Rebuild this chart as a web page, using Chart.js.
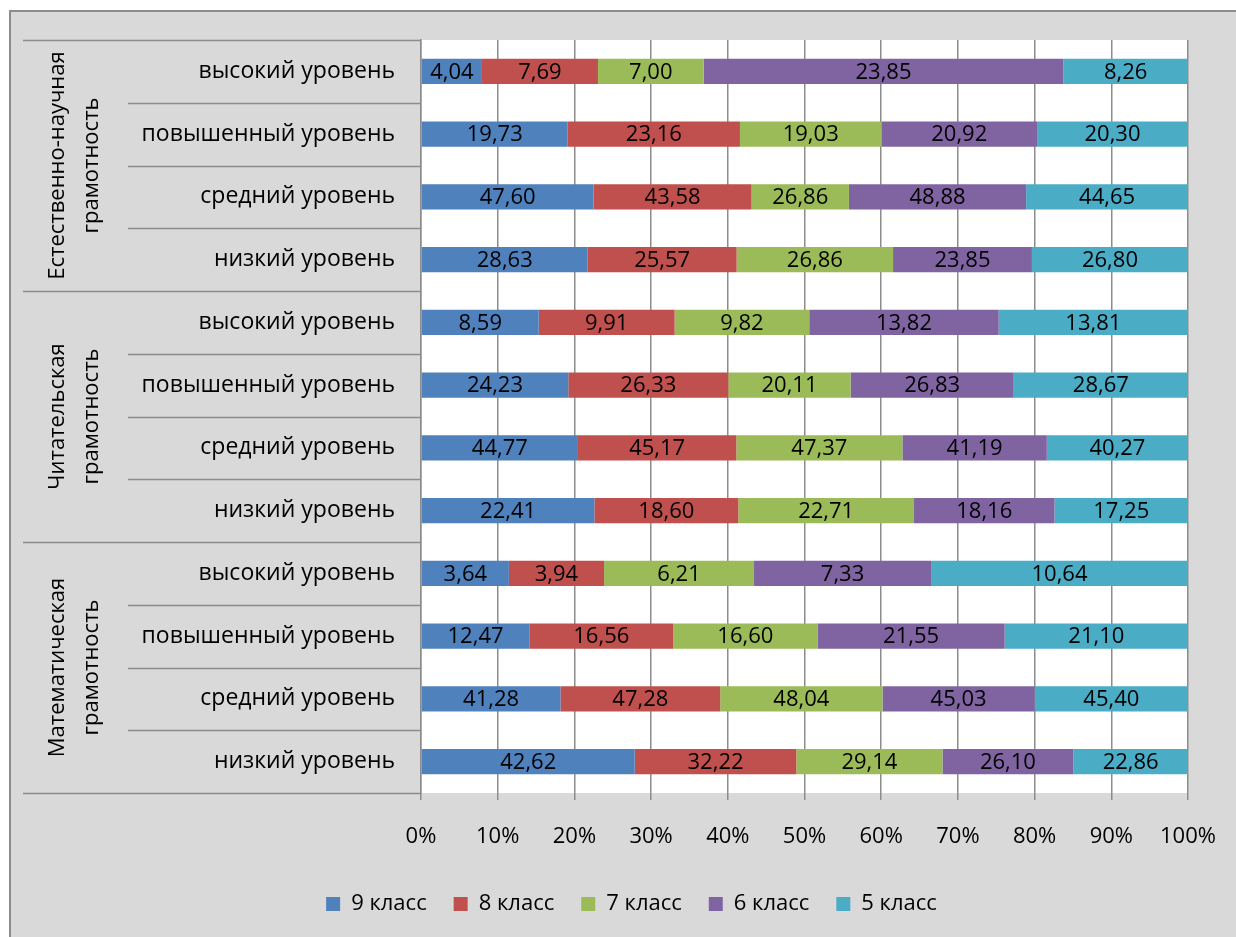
<!DOCTYPE html>
<html>
<head>
<meta charset="utf-8">
<script src="https://cdn.jsdelivr.net/npm/chart.js@4/dist/chart.umd.min.js"></script>
<style>
  html, body { margin: 0; padding: 0; background: #fff; }
  #wrap { width: 1236px; height: 937px; position: relative; }
</style>
</head>
<body>
<div id="wrap"><canvas id="chart"></canvas></div>
<script>
const groups = [
  ['Естественно-научная', 'грамотность'],
  ['Читательская', 'грамотность'],
  ['Математическая', 'грамотность'],
];
const levels = ['высокий уровень', 'повышенный уровень', 'средний уровень', 'низкий уровень'];
const seriesNames = ['9 класс', '8 класс', '7 класс', '6 класс', '5 класс'];
const seriesColors = ['#4f81bd', '#c0504d', '#9bbb59', '#8064a2', '#4bacc6'];

// rows top to bottom: 3 groups x 4 levels
const grade9 = [4.04, 19.73, 47.60, 28.63, 8.59, 24.23, 44.77, 22.41, 3.64, 12.47, 41.28, 42.62];
const grade8 = [7.69, 23.16, 43.58, 25.57, 9.91, 26.33, 45.17, 18.60, 3.94, 16.56, 47.28, 32.22];
const grade7 = [7.00, 19.03, 26.86, 26.86, 9.82, 20.11, 47.37, 22.71, 6.21, 16.60, 48.04, 29.14];
const grade6 = [23.85, 20.92, 48.88, 23.85, 13.82, 26.83, 41.19, 18.16, 7.33, 21.55, 45.03, 26.10];
const grade5 = [8.26, 20.30, 44.65, 26.80, 13.81, 28.67, 40.27, 17.25, 10.64, 21.10, 45.40, 22.86];
const xTicks = [0, 10, 20, 30, 40, 50, 60, 70, 80, 90, 100];

const series = [grade9, grade8, grade7, grade6, grade5];
const categories = [];
groups.forEach(() => levels.forEach(l => categories.push(l)));

// 100% stacked: share of each row total
const totals = categories.map((_, i) => series.reduce((s, arr) => s + arr[i], 0));

const FONT = '"Open Sans", sans-serif';
const LINE = '#8c8c8c';

Chart.defaults.font.family = FONT;
Chart.defaults.color = '#000';

const framePlugin = {
  id: 'frame',
  beforeDraw(chart) {
    const ctx = chart.ctx;
    const a = chart.chartArea;
    const y = chart.scales.y;
    const W = chart.width, H = chart.height;
    ctx.save();
    ctx.fillStyle = '#fff';
    ctx.fillRect(0, 0, W, H);
    ctx.fillStyle = '#d9d9d9';
    ctx.fillRect(9, 10, W, H);
    ctx.strokeStyle = LINE;
    ctx.lineWidth = 2;
    ctx.beginPath();
    ctx.moveTo(10, H);
    ctx.lineTo(10, 11);
    ctx.lineTo(W, 11);
    ctx.stroke();
    ctx.fillStyle = '#fff';
    ctx.fillRect(a.left, a.top, a.right - a.left, a.bottom - a.top);

    // row separators in the label area
    const rowH = y.getPixelForValue(1) - y.getPixelForValue(0);
    const top0 = y.getPixelForValue(0) - rowH / 2;
    ctx.lineWidth = 1.5;
    for (let k = 0; k <= categories.length; k++) {
      const yy = Math.round(top0 + k * rowH) + 0.5;
      ctx.beginPath();
      ctx.moveTo(k % levels.length === 0 ? 23 : 128, yy);
      ctx.lineTo(a.left, yy);
      ctx.stroke();
    }

    // rotated group titles
    ctx.fillStyle = '#000';
    ctx.font = '22px ' + FONT;
    ctx.textAlign = 'center';
    ctx.textBaseline = 'middle';
    groups.forEach((g, gi) => {
      const cy = top0 + (gi * levels.length + levels.length / 2) * rowH;
      ctx.save();
      ctx.translate(75, cy);
      ctx.rotate(-Math.PI / 2);
      ctx.fillText(g[0], 0, -17);
      ctx.fillText(g[1], 0, 17);
      ctx.restore();
    });
    ctx.restore();
  },
  afterDatasetsDraw(chart) {
    const ctx = chart.ctx;
    ctx.save();
    ctx.fillStyle = '#000';
    ctx.font = '22px ' + FONT;
    ctx.textAlign = 'center';
    ctx.textBaseline = 'middle';
    chart.data.datasets.forEach((ds, i) => {
      chart.getDatasetMeta(i).data.forEach((bar, j) => {
        const txt = ds.rawValues[j].toFixed(2).replace('.', ',');
        ctx.fillText(txt, (bar.x + bar.base) / 2, bar.y + 1);
      });
    });
    ctx.restore();
  }
};

new Chart(document.getElementById('chart'), {
  type: 'bar',
  data: {
    labels: categories,
    datasets: series.map((arr, i) => ({
      label: seriesNames[i],
      data: arr.map((v, j) => v / totals[j] * 100),
      rawValues: arr,
      backgroundColor: seriesColors[i],
      borderWidth: 0,
      barPercentage: 0.4,
      categoryPercentage: 1,
    })),
  },
  options: {
    indexAxis: 'y',
    responsive: true,
    maintainAspectRatio: false,
    animation: false,
    layout: { padding: { top: 40, right: 48, left: 75, bottom: 12 } },
    scales: {
      x: {
        stacked: true,
        min: 0,
        max: 100,
        afterBuildTicks: (scale) => { scale.ticks = xTicks.map(v => ({ value: v })); },
        afterFit: (scale) => {
          scale.height = 73;
          scale.paddingLeft = 0;
          scale.paddingRight = 0;
        },
        ticks: {
          callback: (v) => v + '%',
          font: { size: 22 },
          color: '#000',
          padding: 24,
          maxRotation: 0,
        },
        grid: { color: LINE, lineWidth: 1.5, tickLength: 7 },
        border: { display: false },
      },
      y: {
        stacked: true,
        afterFit: (scale) => { scale.width = 346; },
        ticks: { font: { size: 23 }, color: '#000', padding: 26, autoSkip: false },
        grid: { display: false, drawTicks: false },
        border: { display: true, color: LINE, width: 1.5 },
      },
    },
    plugins: {
      legend: {
        position: 'bottom',
        labels: {
          boxWidth: 14,
          boxHeight: 14,
          padding: 27,
          font: { size: 22 },
          color: '#000',
        },
      },
      tooltip: { enabled: false },
    },
  },
  plugins: [framePlugin],
});
</script>
</body>
</html>
